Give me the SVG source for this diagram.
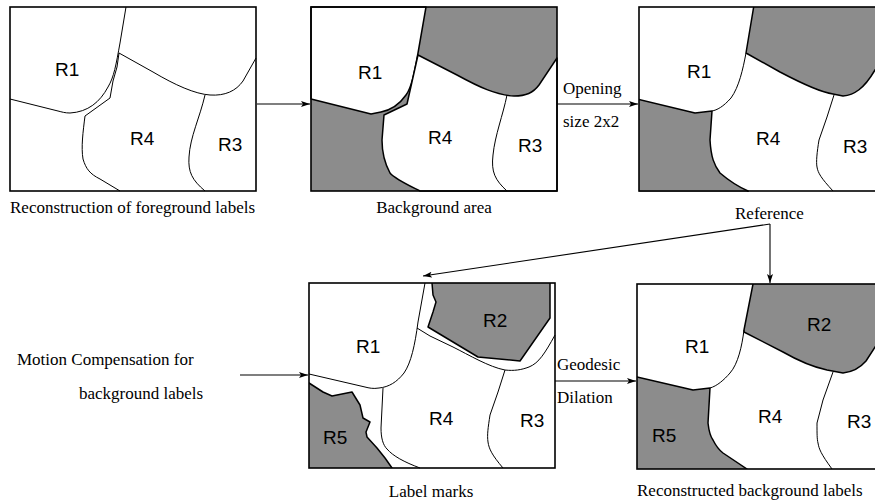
<svg xmlns="http://www.w3.org/2000/svg" width="875" height="504" viewBox="0 0 875 504">
<style>
.frame{fill:none;stroke:#000;stroke-width:1.6}
.bg{fill:#fff}
.gray{fill:#8c8c8c;stroke:#000;stroke-width:1.5;stroke-linejoin:round}
.white{fill:#fff;stroke:#000;stroke-width:1.5;stroke-linejoin:round}
.ln{fill:none;stroke:#000;stroke-width:1}
.rl{font-family:"Liberation Sans",Arial,sans-serif;font-size:19px;fill:#000}
.cap{font-family:"Liberation Serif","Times New Roman",serif;font-size:17px;fill:#000}
.conn{fill:none;stroke:#000;stroke-width:1.1}
</style>
<defs>
<marker id="ah" markerUnits="userSpaceOnUse" markerWidth="10" markerHeight="7" refX="9" refY="3.5" orient="auto">
<path d="M0,0.5 L9,3.5 L0,6.5 L2,3.5 Z" fill="#000"/>
</marker>
<clipPath id="pc"><rect x="0" y="0" width="246" height="185"/></clipPath>
</defs>

<g id="panel-foreground" transform="translate(10,7)">
<rect class="bg" x="0" y="0" width="246" height="184"/>
<path class="ln" d="M116,0 L110,36 C106,58 104,70 98,80 C90,95 78,105 60,106 C55,106 52,105 48,104 L0,92"/>
<path class="ln" d="M109,46 L107,60 L103,74 L100,91 L75,109 C73,125 71,140 73,152 C76,162 80,167 90,172 L110,184"/>
<path class="ln" d="M109,46 L143,65 C165,78 185,87 200,88 C215,89 226,84 233,74 L246,51"/>
<path class="ln" d="M195,88 C190,110 180,130 179,150 C178,165 182,173 195,184"/>
<rect class="frame" x="0" y="0" width="246" height="184"/>
<text class="rl" x="45" y="69">R1</text>
<text class="rl" x="120" y="138">R4</text>
<text class="rl" x="208" y="144">R3</text>
</g>

<g id="panel-background-area" transform="translate(311,7)">
<rect x="0" y="0" width="246" height="184" fill="#8c8c8c"/>
<path class="white" d="M0,0 L115,0 L107,46 C104,62 101,80 95,88 C88,98 80,103 70,105 L60,107 L0,92 Z"/>
<path class="white" d="M107,48 L146,68 C168,80 185,88 203,89 C215,89 222,86 228,78 L246,51 L246,184 L109,184 C95,177 84,172 79,166 C73,155 71,145 71,133 L73,108 L96,97 Z"/>
<path class="ln" d="M196,88 C192,108 184,128 182,148 C180,165 184,173 196,184"/>
<rect class="frame" x="0" y="0" width="246" height="184"/>
<text class="rl" x="47" y="72">R1</text>
<text class="rl" x="117" y="137">R4</text>
<text class="rl" x="207" y="145">R3</text>
</g>

<g id="panel-reference" transform="translate(639,7)">
<rect class="bg" x="0" y="0" width="246" height="184"/>
<g clip-path="url(#pc)">
<path class="gray" d="M115,-2 L248,-2 L248,51 L246,51 L236,63 C225,82 215,88 204,89 L194,87 C180,85 160,75 141,65 L107,46 Z"/>
<path class="gray" d="M-2,92 L56,106 L73,104 L71,133 C72,150 75,158 81,166 C88,172 100,180 109,184 L109,187 L-2,187 Z"/>
</g>
<path class="ln" d="M107,46 C104,62 100,80 92,91 C84,100 78,103 73,104"/>
<path class="ln" d="M195,88 L188,110 L180,133 C178,145 177,155 178,160 C179,166 182,171 194,184"/>
<rect class="frame" x="0" y="0" width="246" height="184"/>
<text class="rl" x="48" y="71">R1</text>
<text class="rl" x="117" y="138">R4</text>
<text class="rl" x="204" y="146">R3</text>
</g>

<g id="panel-label-marks" transform="translate(309,283)">
<rect class="bg" x="0" y="0" width="246" height="185"/>
<g clip-path="url(#pc)">
<path class="gray" d="M123,-2 L123,0 L124,12 L127,19 L124,29 L119,44 L169,74 L211,78 L241,35 L241,-2 Z"/>
<path class="gray" d="M-2,99 L0,100 L14,109 L23,113 L43,109 L51,122 L54,135 L61,139 L57,149 L58,154 L68,165 L76,175 L83,185 L83,187 L-2,187 Z"/>
</g>
<path class="ln" d="M116,0 L109,39 C106,62 102,80 95,90 C88,99 80,104 70,105 C64,106 60,105 56,104 L0,91"/>
<path class="ln" d="M108,45 L121,53 L144,64 C160,72 180,84 196,87 C205,88 212,87 220,84 C230,80 236,70 246,52"/>
<path class="ln" d="M74,105 L73,125 L72,145 C72,155 74,162 78,166 C84,173 95,179 111,185"/>
<path class="ln" d="M196,87 L189,109 L181,132 C179,145 178,152 179,159 C180,166 183,172 194,185"/>
<rect class="frame" x="0" y="0" width="246" height="185"/>
<text class="rl" x="47" y="70">R1</text>
<text class="rl" x="174" y="44">R2</text>
<text class="rl" x="120" y="142">R4</text>
<text class="rl" x="211" y="144">R3</text>
<text class="rl" x="14" y="161">R5</text>
</g>

<g id="panel-reconstructed" transform="translate(637,284)">
<rect class="bg" x="0" y="0" width="246" height="185"/>
<g clip-path="url(#pc)">
<path class="gray" d="M116,-2 L116,0 L107,46 L107,48 L146,68 C160,76 176,83 190,86 L206,89 C215,88 223,84 229,77 L246,51 L248,51 L248,-2 Z"/>
<path class="gray" d="M-2,93 L0,93 L56,106 L73,104 L71,139 C72,148 73,152 76,156 C79,162 82,166 86,169 L110,185 L110,187 L-2,187 Z"/>
</g>
<path class="ln" d="M107,46 C105,62 101,80 93,89 C87,96 80,102 73,104"/>
<path class="ln" d="M196,88 L186,116 L180,139 C180,150 180,155 181,159 C182,165 184,170 195,185"/>
<rect class="frame" x="0" y="0" width="246" height="185"/>
<text class="rl" x="48" y="69">R1</text>
<text class="rl" x="170" y="47">R2</text>
<text class="rl" x="121" y="139">R4</text>
<text class="rl" x="210" y="144">R3</text>
<text class="rl" x="15" y="158">R5</text>
</g>

<g id="connectors">
<path class="conn" d="M257,104 L310,104" marker-end="url(#ah)"/>
<path class="conn" d="M557,104 L638,104" marker-end="url(#ah)"/>
<path class="conn" d="M770,224 L423,276" marker-end="url(#ah)"/>
<path class="conn" d="M770,224 L770,283" marker-end="url(#ah)"/>
<path class="conn" d="M240,375 L308,375" marker-end="url(#ah)"/>
<path class="conn" d="M555,381 L636,381" marker-end="url(#ah)"/>
</g>

<g id="labels">
<text class="cap" x="10" y="213">Reconstruction of foreground labels</text>
<text class="cap" x="434" y="213" text-anchor="middle">Background area</text>
<text class="cap" x="735" y="219">Reference</text>
<text class="cap" x="563" y="94">Opening</text>
<text class="cap" x="563" y="127">size 2x2</text>
<text class="cap" x="557" y="370">Geodesic</text>
<text class="cap" x="557" y="403">Dilation</text>
<text class="cap" x="17" y="365">Motion Compensation for</text>
<text class="cap" x="79" y="399">background labels</text>
<text class="cap" x="431" y="497" text-anchor="middle">Label marks</text>
<text class="cap" x="637" y="496">Reconstructed background labels</text>
</g>
</svg>
